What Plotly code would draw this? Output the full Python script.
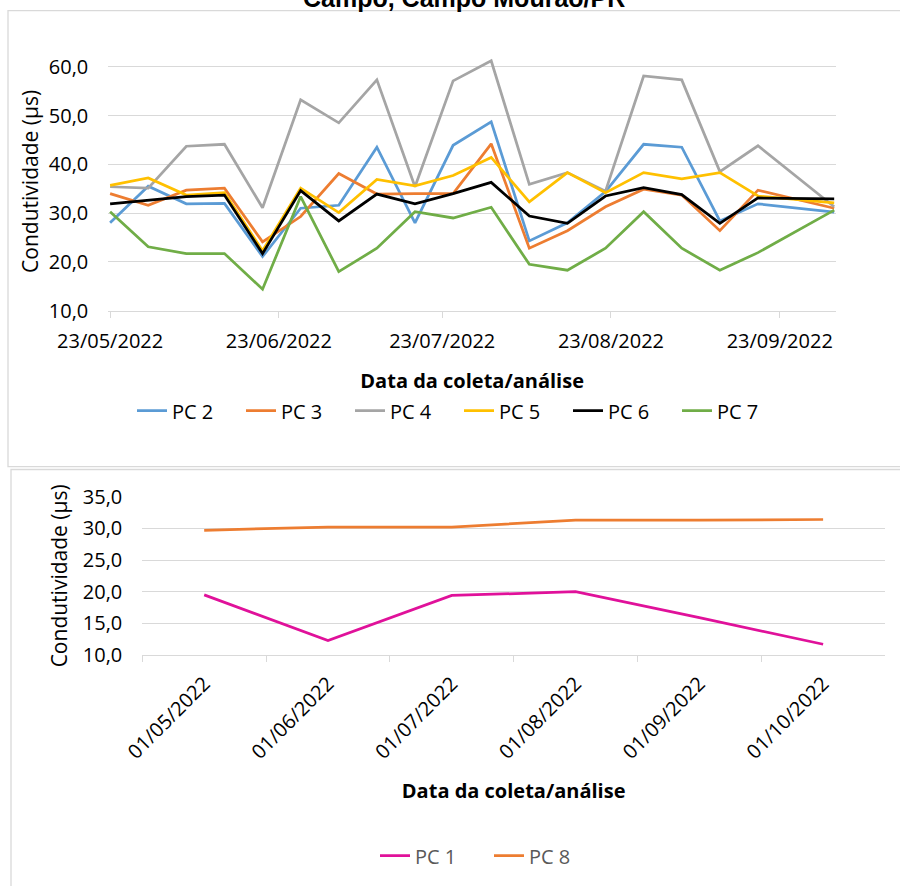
import plotly.graph_objects as go

# ---- data: weekly conductivity readings, points PC 2 .. PC 7 ----
dates_weekly = [
    "2022-05-23", "2022-05-30", "2022-06-06", "2022-06-13", "2022-06-20",
    "2022-06-27", "2022-07-04", "2022-07-11", "2022-07-18", "2022-07-25",
    "2022-08-01", "2022-08-08", "2022-08-15", "2022-08-22", "2022-08-29",
    "2022-09-05", "2022-09-12", "2022-09-19", "2022-10-03",
]
pc2 = [28.0, 35.5, 31.9, 32.0, 21.1, 31.0, 31.6, 43.5, 28.0, 43.9,
       48.7, 24.3, 28.0, 34.4, 44.1, 43.5, 28.4, 31.9, 30.2]
pc3 = [34.0, 31.6, 34.7, 35.1, 24.1, 29.3, 38.1, 33.9, 34.0, 34.0,
       44.2, 22.8, 26.4, 31.3, 34.9, 33.7, 26.4, 34.7, 31.0]
pc4 = [35.4, 35.1, 43.7, 44.1, 31.1, 53.2, 48.5, 57.3, 35.4, 57.1,
       61.2, 35.9, 38.3, 34.5, 58.1, 57.3, 38.5, 43.8, 31.3]
pc5 = [35.7, 37.2, 33.7, 34.2, 22.3, 35.1, 30.1, 36.9, 35.6, 37.7,
       41.4, 32.3, 38.3, 34.2, 38.3, 37.0, 38.3, 33.5, 32.1]
pc6 = [31.9, 32.7, 33.4, 33.7, 21.7, 34.6, 28.4, 33.9, 31.9, 34.0,
       36.3, 29.4, 27.9, 33.5, 35.2, 33.8, 27.9, 33.1, 32.9]
pc7 = [30.3, 23.1, 21.7, 21.7, 14.4, 33.4, 18.0, 22.8, 30.3, 29.0,
       31.2, 19.5, 18.3, 22.8, 30.3, 22.8, 18.3, 21.9, 30.6]

top_series = ["PC 2", "PC 3", "PC 4", "PC 5", "PC 6", "PC 7"]
top_values = [pc2, pc3, pc4, pc5, pc6, pc7]
top_colors = ["#5B9BD5", "#ED7D31", "#A5A5A5", "#FFC000", "#000000", "#70AD47"]
top_ticks = ["2022-05-23", "2022-06-23", "2022-07-23", "2022-08-23", "2022-09-23"]
top_yticks = [10, 20, 30, 40, 50, 60]

# ---- data: monthly readings, points PC 1 and PC 8 ----
months = ["01/05/2022", "01/06/2022", "01/07/2022", "01/08/2022", "01/09/2022", "01/10/2022"]
pc1 = [19.5, 12.3, 19.4, 20.0, 15.9, 11.7]
pc8 = [29.7, 30.2, 30.2, 31.3, 31.3, 31.4]

bottom_series = ["PC 1", "PC 8"]
bottom_values = [pc1, pc8]
bottom_colors = ["#E0119A", "#ED7D31"]
bottom_yticks = [10, 15, 20, 25, 30, 35]

W, H = 900, 886


def px(x):
    return x / W


def py(y):
    return 1 - y / H


FONT = "Open Sans"
GRID = "#D9D9D9"

fig = go.Figure()

for name, vals, col in zip(top_series, top_values, top_colors):
    fig.add_trace(go.Scatter(
        x=dates_weekly, y=vals, name=name, mode="lines",
        line=dict(color=col, width=2.75), xaxis="x", yaxis="y", legend="legend",
    ))

for name, vals, col in zip(bottom_series, bottom_values, bottom_colors):
    fig.add_trace(go.Scatter(
        x=months, y=vals, name=name, mode="lines",
        line=dict(color=col, width=2.75), xaxis="x2", yaxis="y2", legend="legend2",
    ))

tick_font = dict(family=FONT, size=20, color="#000000")
ytitle_font = dict(family=FONT, size=21, color="#000000")
xtitle_font = dict(family=FONT, size=20, color="#000000", weight="bold")

# top value axis: 10..60 with a little headroom above the last gridline
y_px_per_unit = (310.7 - 66.7) / 50.0
top_ymax = 63.0
top_plot_top = 310.7 - (top_ymax - 10) * y_px_per_unit

fig.update_layout(
    template="none",
    width=W, height=H,
    margin=dict(l=0, r=0, t=0, b=0),
    paper_bgcolor="white", plot_bgcolor="white",
    separators=",.",
    showlegend=True,
    xaxis=dict(
        domain=[px(108.3), px(836)], type="date",
        range=["2022-05-22 16:00", "2022-10-03 08:00"],
        tickvals=top_ticks, tickformat="%d/%m/%Y",
        showgrid=False, zeroline=False,
        showline=True, linecolor=GRID, linewidth=1,
        ticks="outside", ticklen=6, tickcolor=GRID, tickwidth=1,
        tickfont=tick_font, automargin=False, ticklabelstandoff=6,
        title=dict(text="Data da coleta/análise", font=xtitle_font, standoff=21),
        anchor="y",
    ),
    yaxis=dict(
        domain=[py(310.7), py(top_plot_top)], range=[10, top_ymax],
        tickvals=top_yticks, tickformat=".1f",
        showgrid=True, gridcolor=GRID, gridwidth=1.3, zeroline=False,
        showline=False, ticks="", tickfont=tick_font, automargin=False,
        ticklabelstandoff=19,
        title=dict(text="Condutividade (µs)", font=ytitle_font, standoff=4),
        anchor="x",
    ),
    xaxis2=dict(
        domain=[px(142.3), px(885)], type="category",
        categoryorder="array", categoryarray=months,
        range=[-0.5, 5.5], tickson="boundaries",
        showgrid=False, zeroline=False,
        showline=True, linecolor=GRID, linewidth=1,
        ticks="outside", ticklen=6, tickcolor=GRID, tickwidth=1,
        tickangle=-45, tickfont=tick_font, automargin=False,
        ticklabelstandoff=8,
        title=dict(text="Data da coleta/análise", font=xtitle_font, standoff=20),
        anchor="y2",
    ),
    yaxis2=dict(
        domain=[py(655), py(496.7)], range=[10, 35],
        tickvals=bottom_yticks, tickformat=".1f",
        showgrid=True, gridcolor=GRID, gridwidth=1.3, zeroline=False,
        showline=False, ticks="", tickfont=tick_font, automargin=False,
        ticklabelstandoff=19,
        title=dict(text="Condutividade (µs)", font=ytitle_font, standoff=9),
        anchor="x2",
    ),
    legend=dict(
        orientation="h", x=px(132), xanchor="left", y=py(410.7), yanchor="middle",
        font=dict(family=FONT, size=20, color="#000000"),
        entrywidth=64, entrywidthmode="pixels",
        bgcolor="rgba(0,0,0,0)", borderwidth=0, itemclick=False,
    ),
    legend2=dict(
        orientation="h", x=px(375), xanchor="left", y=py(855.7), yanchor="middle",
        font=dict(family=FONT, size=20, color="#595959"),
        entrywidth=69, entrywidthmode="pixels",
        bgcolor="rgba(0,0,0,0)", borderwidth=0, itemclick=False,
    ),
)

# chart frames
fig.add_shape(type="rect", xref="paper", yref="paper",
              x0=px(8), x1=px(910), y0=py(466.7), y1=py(10.7),
              line=dict(color=GRID, width=1.3), fillcolor="rgba(0,0,0,0)", layer="below")
fig.add_shape(type="rect", xref="paper", yref="paper",
              x0=px(11), x1=px(910), y0=py(900), y1=py(469.5),
              line=dict(color=GRID, width=1.3), fillcolor="rgba(0,0,0,0)", layer="below")

# heading line from the page above the first chart
fig.add_annotation(
    text="Campo, Campo Mourão/PR", xref="paper", yref="paper",
    x=px(464), y=py(14), xanchor="center", yanchor="bottom",
    showarrow=False,
    font=dict(family="Liberation Sans", size=25, color="#000000", weight="bold"),
)

fig.write_html("out.html")
